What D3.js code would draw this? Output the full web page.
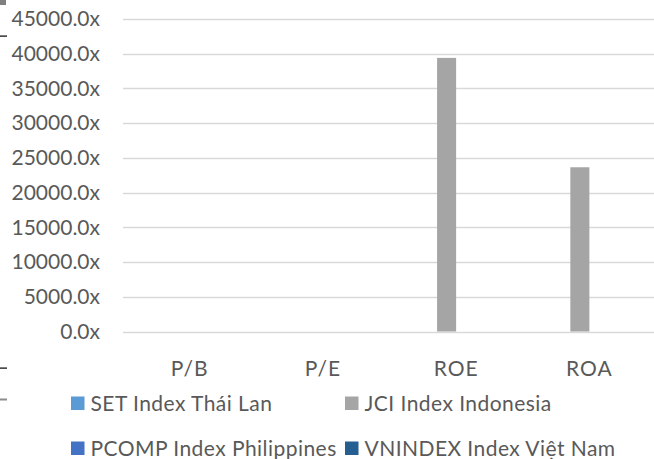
<!DOCTYPE html>
<html><head><meta charset="utf-8">
<script src="https://cdn.jsdelivr.net/npm/d3@7/dist/d3.min.js"></script>
<style>body{margin:0;background:#fff}svg{display:block}text{font-family:Lato,"Open Sans",sans-serif;fill:#595959}</style>
</head><body><svg id="c" width="654" height="459"></svg>
<script>
const categories = ["P/B", "P/E", "ROE", "ROA"];
const seriesNames = ["SET Index Thái Lan", "JCI Index Indonesia", "PCOMP Index Philippines", "VNINDEX Index Việt Nam"];
const setValues = [0, 0, 0, 0];
const jciValues = [0, 0, 39400, 23650];
const pcompValues = [0, 0, 0, 0];
const vnValues = [0, 0, 0, 0];
const colors = ["#5b9bd5", "#a5a5a5", "#4472c4", "#255e91"];
const yTicks = [0, 5000, 10000, 15000, 20000, 25000, 30000, 35000, 40000, 45000];

const allValues = [setValues, jciValues, pcompValues, vnValues];
const svg = d3.select("#c");
const pLeft = 123, pRight = 656, pTop = 19, pBottom = 331.5;
const x0 = d3.scaleBand().domain(categories).range([pLeft, pRight]);
const bw = x0.bandwidth();
const gap = bw * 57 / 133;
const x1 = d3.scaleBand().domain(seriesNames).range([gap / 2, bw - gap / 2]);
const y = d3.scaleLinear().domain([0, 45000]).range([pBottom, pTop]);

// decorative left-edge fragments
svg.append("rect").attr("x", 0).attr("y", 0).attr("width", 6).attr("height", 5).attr("fill", "#808080");
svg.append("rect").attr("x", 0).attr("y", 35.5).attr("width", 7).attr("height", 1.2).attr("fill", "#000");
svg.append("rect").attr("x", 0).attr("y", 367.5).attr("width", 7).attr("height", 1.2).attr("fill", "#000");
svg.append("rect").attr("x", 0).attr("y", 398.5).attr("width", 7).attr("height", 2).attr("fill", "#8c8c8c");

// gridlines
svg.append("g").selectAll("line").data(yTicks).join("line")
  .attr("x1", pLeft).attr("x2", pRight)
  .attr("y1", d => Math.round(y(d)) + 0.5).attr("y2", d => Math.round(y(d)) + 0.5)
  .attr("stroke", "#d9d9d9").attr("stroke-width", 1.5);

// y axis labels
const yAxis = d3.axisLeft(y).tickValues(yTicks).tickFormat(d => d.toFixed(1) + "x").tickSize(0).tickPadding(0);
const ya = svg.append("g").attr("transform", "translate(100,0)").call(yAxis);
ya.select(".domain").remove();
ya.selectAll("text").attr("font-size", 21).attr("fill", "#595959").style("font-family", "Lato");

// bars
const groups = svg.append("g").selectAll("g").data(categories).join("g")
  .attr("transform", d => `translate(${x0(d)},0)`);
groups.selectAll("rect").data((c, i) => seriesNames.map((s, k) => ({s, k, v: allValues[k][i]})))
  .join("rect")
  .attr("x", d => x1(d.s)).attr("width", x1.bandwidth())
  .attr("y", d => y(d.v)).attr("height", d => y(0) - y(d.v))
  .attr("fill", d => colors[d.k]);

// x axis labels
const xAxis = d3.axisBottom(x0).tickSize(0).tickPadding(0);
const xa = svg.append("g").attr("transform", "translate(0,376)").call(xAxis);
xa.select(".domain").remove();
xa.selectAll("text").attr("font-size", 21).attr("fill", "#595959").attr("dy", 0)
  .style("font-family", "Lato").style("letter-spacing", "1px");

// legend
const legendPos = [[71, 403], [345, 403], [71, 448], [345, 448]];
const lg = svg.append("g").selectAll("g").data(seriesNames).join("g")
  .attr("transform", (d, i) => `translate(${legendPos[i][0]},${legendPos[i][1]})`);
lg.append("rect").attr("x", 0).attr("y", -6.5).attr("width", 13.5).attr("height", 13.5).attr("fill", (d, i) => colors[i]);
lg.append("text").attr("x", 19.5).attr("y", 7.5).attr("font-size", 21).style("letter-spacing", "0.45px").text(d => d);
</script></body></html>
